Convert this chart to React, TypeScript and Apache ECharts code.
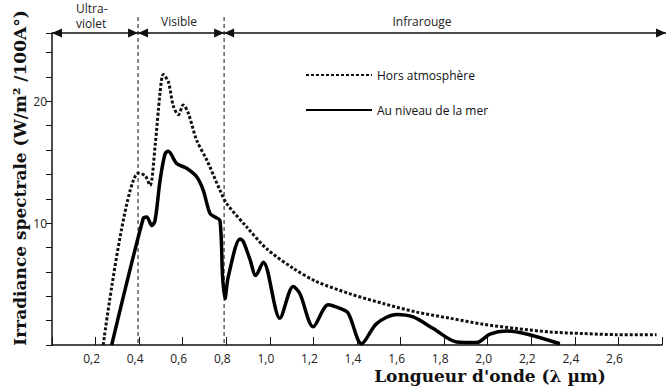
import React, { useEffect, useRef } from "react";
import * as echarts from "echarts";

// Wavelength (µm) / irradiance (W/m²/100Å)
const horsX = [0.235, 0.396, 0.427, 0.45, 0.473, 0.496, 0.511, 0.534, 0.557, 0.58, 0.603, 0.626, 0.664, 0.71, 0.771, 0.802, 0.893, 0.985, 1.107, 1.215, 1.368, 1.521, 1.674, 1.826, 1.979, 2.133, 2.285, 2.438, 2.591, 2.775];
const horsY = [0, 14.1, 13.9, 13.1, 16.3, 20.7, 22.2, 21.6, 19.6, 18.9, 19.7, 19.0, 16.8, 15.2, 12.7, 11.6, 9.7, 7.9, 6.3, 5.2, 4.2, 3.4, 2.7, 2.2, 1.7, 1.35, 1.07, 0.94, 0.85, 0.85];

const merX = [0.274, 0.419, 0.435, 0.458, 0.473, 0.496, 0.519, 0.534, 0.572, 0.618, 0.664, 0.694, 0.725, 0.748, 0.771, 0.783, 0.794, 0.809, 0.863, 0.878, 0.909, 0.935, 0.97, 1.046, 1.107, 1.138, 1.199, 1.268, 1.322, 1.36, 1.421, 1.49, 1.582, 1.658, 1.75, 1.857, 1.949, 2.01, 2.087, 2.178, 2.331];
const merY = [0, 10.4, 10.5, 9.8, 10.2, 13.5, 15.7, 15.9, 14.9, 14.5, 13.8, 12.7, 10.8, 10.5, 10.2, 5.6, 3.8, 5.6, 8.7, 8.5, 7.0, 5.7, 6.8, 2.2, 4.8, 4.2, 1.5, 3.3, 3.0, 2.6, 0.1, 1.76, 2.5, 2.3, 1.35, 0.25, 0.2, 0.9, 1.15, 0.9, 0.1];

const seriesNames = ["Hors atmosphère", "Au niveau de la mer"];
const regionBounds = [0, 0.395, 0.79, 2.8];
const regionLabels = ["Ultra-\nviolet", "Visible", "Infrarouge"];
const yLabelValues = [10, 20];
const yMax = 25.6;
const xTitle = "Longueur d'onde (λ µm)";
const yTitle = "Irradiance spectrale (W/m² /100A°)";

export default function App() {
  const ref = useRef<HTMLDivElement>(null);
  useEffect(() => {
    const chart = echarts.init(ref.current!, null, { renderer: "svg" });
    const sans = "'Open Sans', sans-serif";
    const serif = "'DejaVu Serif', serif";
    const ink = "#111";
    chart.setOption({
      animation: false,
      backgroundColor: "#fff",
      grid: { left: 52, right: 7, top: 33, bottom: 46 },
      xAxis: {
        type: "value",
        min: 0,
        max: 2.8,
        interval: 0.2,
        axisLine: { lineStyle: { color: ink, width: 1.5 } },
        axisTick: { inside: true, length: 8, lineStyle: { color: ink, width: 1 } },
        splitLine: { show: false },
        axisLabel: {
          formatter: (v: number) => (v < 0.1 || v > 2.7 ? "" : v.toFixed(1).replace(".", ",")),
          color: "#222",
          fontFamily: sans,
          fontSize: 12,
          margin: 7,
          padding: [0, 8, 0, 0],
        },
      },
      yAxis: {
        type: "value",
        min: 0,
        max: yMax,
        interval: 2,
        axisLine: { show: true, lineStyle: { color: ink, width: 1.5 } },
        axisTick: { show: true, length: 6, lineStyle: { color: ink, width: 1 } },
        splitLine: { show: false },
        axisLabel: {
          formatter: (v: number) => (yLabelValues.includes(v) ? String(v) : ""),
          color: "#222",
          fontFamily: sans,
          fontSize: 12,
          margin: 5,
        },
      },
      legend: {
        orient: "vertical",
        left: 305,
        top: 69,
        padding: 0,
        itemWidth: 66,
        itemHeight: 14,
        itemGap: 23,
        data: seriesNames,
        itemStyle: { opacity: 0 },
        textStyle: { color: "#111", fontFamily: sans, fontSize: 12 },
      },
      series: [
        {
          name: seriesNames[0],
          type: "line",
          data: horsX.map((x, i) => [x, horsY[i]]),
          symbol: "none",
          smooth: 0.3,
          lineStyle: { color: "#111", width: 3, type: [3, 2] },
          itemStyle: { color: "#111" },
        },
        {
          name: seriesNames[1],
          type: "line",
          data: merX.map((x, i) => [x, merY[i]]),
          symbol: "none",
          smooth: 0.3,
          lineStyle: { color: "#000", width: 3.5 },
          itemStyle: { color: "#000" },
        },
      ],
    });

    const px = (x: number, y: number) => chart.convertToPixel({ gridIndex: 0 }, [x, y]) as number[];
    const yTop = px(0, yMax)[1];
    const yBottom = px(0, 0)[1];
    const g: any[] = [];
    const head = 10;
    const half = 4.5;
    for (let i = 0; i < regionLabels.length; i++) {
      const xa = px(regionBounds[i], yMax)[0];
      let xb = px(regionBounds[i + 1], yMax)[0];
      if (i === regionLabels.length - 1) xb += 4;
      g.push({ type: "line", shape: { x1: xa, y1: yTop, x2: xb, y2: yTop }, style: { stroke: ink, lineWidth: 1.5 } });
      g.push({ type: "polygon", shape: { points: [[xa, yTop], [xa + head, yTop - half], [xa + head, yTop + half]] }, style: { fill: ink } });
      g.push({ type: "polygon", shape: { points: [[xb, yTop], [xb - head, yTop - half], [xb - head, yTop + half]] }, style: { fill: ink } });
    }
    [regionBounds[1], regionBounds[2]].forEach((b) => {
      const xb = px(b, 0)[0];
      g.push({ type: "line", shape: { x1: xb, y1: yTop - 16, x2: xb, y2: yBottom }, style: { stroke: ink, lineWidth: 1, lineDash: [4, 3] } });
    });
    const labelPos = [[76, 16, "left"], [179, 21, "center"], [422, 21, "center"]];
    regionLabels.forEach((t, i) => {
      g.push({
        type: "text",
        x: labelPos[i][0],
        y: labelPos[i][1],
        style: { text: t, fill: "#222", fontFamily: sans, fontSize: 12, align: labelPos[i][2], verticalAlign: "middle", lineHeight: 15.5 },
      });
    });
    g.push({
      type: "text",
      x: 20,
      y: 178,
      rotation: Math.PI / 2,
      style: { text: yTitle, fill: ink, fontFamily: serif, fontWeight: "bold", fontSize: 17, align: "center", verticalAlign: "middle" },
    });
    g.push({
      type: "text",
      x: 490,
      y: 376,
      style: { text: xTitle, fill: ink, fontFamily: serif, fontWeight: "bold", fontSize: 17, align: "center", verticalAlign: "middle" },
    });
    chart.setOption({ graphic: g });
    return () => chart.dispose();
  }, []);
  return <div ref={ref} style={{ position: "fixed", left: 0, top: 0, width: 669, height: 391 }} />;
}
